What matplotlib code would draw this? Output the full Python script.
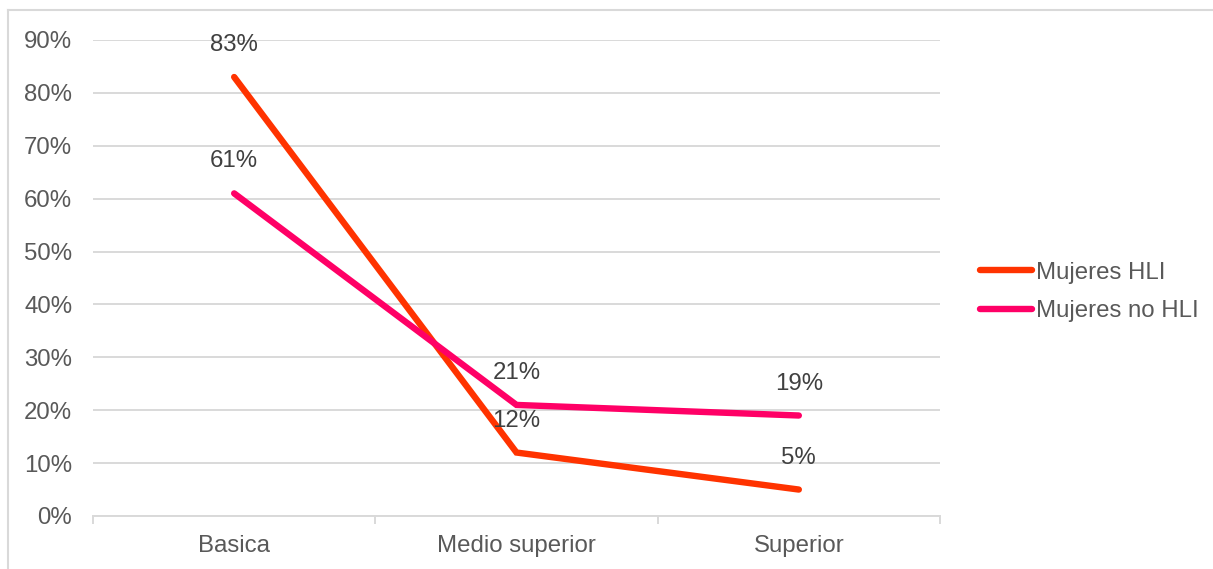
import matplotlib.pyplot as plt
from matplotlib.lines import Line2D

plt.rcParams['font.family'] = ['Liberation Sans', 'DejaVu Sans']

# datos
niveles = ['Basica', 'Medio superior', 'Superior']
mujeres_hli = [83, 12, 5]
mujeres_no_hli = [61, 21, 19]
series = ['Mujeres HLI', 'Mujeres no HLI']
colores = ['#FF3300', '#FF0066']
yticks = [0, 10, 20, 30, 40, 50, 60, 70, 80, 90]

fs = 17.3

fig = plt.figure(figsize=(12.13, 5.69), dpi=100)
ax = fig.add_axes([93 / 1213, 1 - 516 / 569, 847 / 1213, 476 / 569])

x = range(len(niveles))
for vals, nombre, c in zip([mujeres_hli, mujeres_no_hli], series, colores):
    ax.plot(x, [v / 100 for v in vals], color=c, lw=4.6, label=nombre,
            solid_capstyle='round', solid_joinstyle='miter', zorder=3)
    for xi, v in zip(x, vals):
        ax.annotate(f'{v}%', (xi, v / 100), xytext=(0, 23), textcoords='offset points',
                    ha='center', va='center', fontsize=fs, color='#404040', zorder=4)

ax.set_xlim(-0.5, 2.5)
ax.set_ylim(0, 0.9)
ax.set_yticks([t / 100 for t in yticks])
ax.set_yticklabels([f'{t}%' for t in yticks])
ax.tick_params(axis='y', length=0, pad=15, labelsize=fs, labelcolor='#595959')
ax.grid(axis='y', color='#D9D9D9', lw=1.4, zorder=0)

# categorias: etiquetas centradas, marcas en los bordes
ax.set_xticks([-0.5, 0.5, 1.5, 2.5])
ax.set_xticklabels([])
ax.set_xticks(list(x), minor=True)
ax.set_xticklabels(niveles, minor=True)
ax.tick_params(axis='x', which='major', length=6, width=1.4, color='#D9D9D9')
ax.tick_params(axis='x', which='minor', length=0, pad=14, labelsize=fs, labelcolor='#595959')

for s in ['top', 'right', 'left']:
    ax.spines[s].set_visible(False)
ax.spines['bottom'].set_color('#D9D9D9')
ax.spines['bottom'].set_linewidth(1.4)

ax.legend(loc='center left', bbox_to_anchor=(980 / 1213, 1 - 292 / 569),
          bbox_transform=fig.transFigure, frameon=False, fontsize=fs,
          handlelength=2.15, handletextpad=0.2, labelspacing=0.7,
          borderpad=0, borderaxespad=0, labelcolor='#595959')

# marco del grafico
fig.add_artist(Line2D([8 / 1213, 8 / 1213], [0, 1 - 10 / 569], transform=fig.transFigure,
                      color='#D9D9D9', lw=1.5))
fig.add_artist(Line2D([8 / 1213, 1], [1 - 10 / 569, 1 - 10 / 569], transform=fig.transFigure,
                      color='#D9D9D9', lw=1.5))

fig.savefig('out.png', dpi=100)
